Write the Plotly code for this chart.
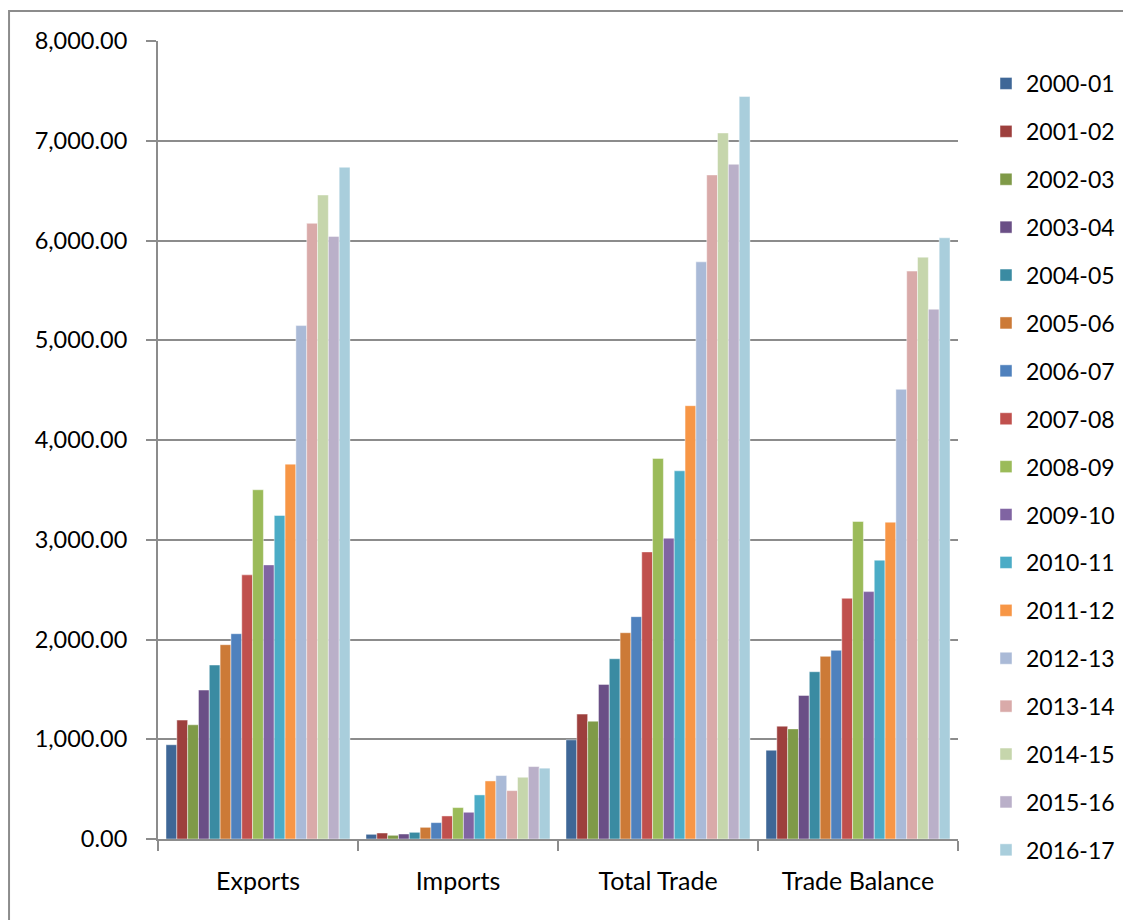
import plotly.graph_objects as go

# Trade figures by category and fiscal year
categories = ["Exports", "Imports", "Total Trade", "Trade Balance"]

years = ["2000-01", "2001-02", "2002-03", "2003-04", "2004-05", "2005-06",
         "2006-07", "2007-08", "2008-09", "2009-10", "2010-11", "2011-12",
         "2012-13", "2013-14", "2014-15", "2015-16", "2016-17"]

exports = [945, 1192, 1145, 1493, 1744, 1948, 2058, 2648, 3501, 2748,
           3243, 3758, 5147, 6172, 6456, 6041, 6734]
imports = [47, 60, 37, 50, 67, 117, 164, 231, 315, 268,
           442, 582, 636, 485, 619, 726, 710]
total_trade = [994, 1252, 1181, 1550, 1807, 2068, 2229, 2878, 3815, 3015,
               3691, 4344, 5786, 6657, 7078, 6764, 7443]
trade_balance = [890, 1131, 1104, 1439, 1677, 1831, 1891, 2413, 3183, 2480,
                 2795, 3176, 4508, 5693, 5833, 5311, 6027]

colors = ["#3F6797", "#9D3F3D", "#7F9A48", "#6A4F86", "#3A8BA2", "#CC7A37",
          "#4F81BD", "#C0504D", "#9BBB59", "#8064A2", "#4BACC6", "#F79646",
          "#AABAD7", "#D9AAA9", "#C6D6AC", "#BAB0C9", "#A9CEDC"]

y_ticks = [0, 1000, 2000, 3000, 4000, 5000, 6000, 7000, 8000]

FONT = "Lato, 'Noto Sans', sans-serif"
GRID = "#8C8C8C"

fig = go.Figure()
for i, yr in enumerate(years):
    fig.add_trace(go.Bar(
        name=yr,
        x=categories,
        y=[exports[i], imports[i], total_trade[i], trade_balance[i]],
        marker=dict(color=colors[i],
                    line=dict(color="rgba(255,255,255,0.45)", width=1)),
        legendgroup=yr,
    ))

fig.update_layout(
    width=1123, height=920,
    margin=dict(l=158, r=165, t=41, b=81, autoexpand=False),
    paper_bgcolor="white",
    plot_bgcolor="white",
    barmode="group",
    bargap=0.08,
    bargroupgap=0,
    font=dict(family=FONT, size=23, color="#000000"),
    showlegend=True,
    legend=dict(
        x=1.035, xanchor="left",
        y=0.9737, yanchor="top",
        font=dict(family=FONT, size=23, color="#000000"),
        tracegroupgap=15,
        maxheight=900,
        bgcolor="rgba(0,0,0,0)",
    ),
    shapes=[dict(
        type="rect", xref="paper", yref="paper",
        x0=-0.1862, x1=1.25, y0=-0.12, y1=1.0375,
        line=dict(color=GRID, width=2), fillcolor="rgba(0,0,0,0)",
        layer="below",
    )],
)

fig.update_xaxes(
    type="category",
    showgrid=False,
    showline=True, linecolor=GRID, linewidth=2,
    ticks="outside", tickson="boundaries", ticklen=10,
    tickcolor=GRID, tickwidth=2,
    ticklabelstandoff=19,
    tickfont=dict(family=FONT, size=25, color="#000000"),
)

fig.update_yaxes(
    range=[0, 8000],
    tickvals=y_ticks,
    tickformat=",.2f",
    showgrid=True, gridcolor=GRID, gridwidth=2,
    zeroline=False,
    showline=True, linecolor=GRID, linewidth=2,
    ticks="outside", ticklen=10, tickcolor=GRID, tickwidth=2,
    ticklabelstandoff=14,
    tickfont=dict(family=FONT, size=23.5, color="#000000"),
)

fig.write_html("out.html")
